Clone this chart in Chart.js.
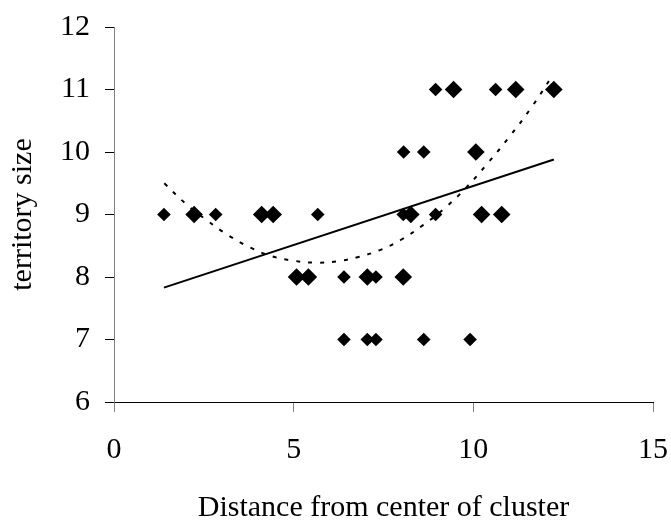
<!DOCTYPE html>
<html>
<head>
<meta charset="utf-8">
<script src="https://cdn.jsdelivr.net/npm/chart.js@4.4.1/dist/chart.umd.min.js"></script>
<style>
  html, body { margin: 0; padding: 0; background: #fff; }
  #wrap { width: 671px; height: 520px; }
</style>
</head>
<body>
<div id="wrap"><canvas id="territoryChart" width="671" height="520"></canvas></div>
<script>
// observed points, small diamonds
const smallX = [1.39, 2.83, 5.67, 8.05, 8.95, 8.06, 8.62, 8.95, 10.62, 6.40, 7.29, 6.40, 7.05, 7.29, 8.62, 9.91];
const smallY = [9, 9, 9, 9, 9, 10, 10, 11, 11, 8, 8, 7, 7, 7, 7, 7];

// observed points, large diamonds
const largeX = [2.23, 4.11, 4.43, 8.26, 10.23, 10.79, 10.07, 9.45, 11.18, 12.24, 5.08, 5.41, 7.05, 8.05];
const largeY = [9, 9, 9, 9, 9, 9, 10, 11, 11, 11, 8, 8, 8, 8];

// linear trend line (end points)
const linearX = [1.39, 12.24];
const linearY = [7.83, 9.88];

// polynomial trend line
const curveX = [1.4, 2.0, 2.6, 3.2, 3.8, 4.4, 5.0, 5.6, 6.2, 6.8, 7.4, 8.0, 8.6, 9.2, 9.8, 10.4, 11.0, 11.6, 12.2];
const curveY = [9.50, 9.17, 8.90, 8.66, 8.47, 8.33, 8.26, 8.23, 8.25, 8.32, 8.43, 8.60, 8.83, 9.10, 9.43, 9.82, 10.24, 10.70, 11.22];

const xTicks = [0, 5, 10, 15];
const yTicks = [6, 7, 8, 9, 10, 11, 12];

const toPoints = (xs, ys) => xs.map((x, i) => ({ x: x, y: ys[i] }));

const serif = 'Liberation Serif, Times New Roman, serif';

// stop label overflow from pushing the plot area in; layout padding handles it
const noEdgePadding = (scale) => {
    scale.paddingLeft = 0;
    scale.paddingRight = 0;
    scale.paddingTop = 0;
    scale.paddingBottom = 0;
};

new Chart(document.getElementById('territoryChart'), {
    type: 'scatter',
    data: {
        datasets: [
            {
                label: 'small',
                data: toPoints(smallX, smallY),
                pointStyle: 'rectRot',
                pointRadius: 6.8,
                pointBorderWidth: 0,
                backgroundColor: '#000',
                borderColor: '#000',
                order: 1
            },
            {
                label: 'large',
                data: toPoints(largeX, largeY),
                pointStyle: 'rectRot',
                pointRadius: 8.8,
                pointBorderWidth: 0,
                backgroundColor: '#000',
                borderColor: '#000',
                order: 1
            },
            {
                label: 'Linear',
                data: toPoints(linearX, linearY),
                showLine: true,
                pointRadius: 0,
                borderColor: '#000',
                borderWidth: 2,
                order: 2
            },
            {
                label: 'Poly',
                data: toPoints(curveX, curveY),
                showLine: true,
                pointRadius: 0,
                tension: 0.4,
                borderColor: '#000',
                borderWidth: 2,
                borderDash: [4, 8],
                order: 2
            }
        ]
    },
    options: {
        responsive: false,
        animation: false,
        events: [],
        layout: {
            padding: { left: 0, right: 18, top: 27, bottom: 0 }
        },
        plugins: {
            legend: { display: false },
            tooltip: { enabled: false }
        },
        scales: {
            x: {
                type: 'linear',
                min: 0,
                max: 15,
                afterBuildTicks: (scale) => { scale.ticks = xTicks.map(v => ({ value: v })); },
                afterFit: (scale) => { scale.height = 118; noEdgePadding(scale); },
                ticks: {
                    color: '#000',
                    padding: 23,
                    font: { family: serif, size: 30, lineHeight: 1 }
                },
                grid: {
                    drawOnChartArea: false,
                    drawTicks: true,
                    tickLength: 10,
                    color: '#808080'
                },
                border: { display: true, color: '#000', width: 1 },
                title: {
                    display: true,
                    text: 'Distance from center of cluster',
                    color: '#000',
                    padding: { top: 0, bottom: 0 },
                    font: { family: serif, size: 30, lineHeight: 0.8 }
                }
            },
            y: {
                type: 'linear',
                min: 6,
                max: 12,
                afterBuildTicks: (scale) => { scale.ticks = yTicks.map(v => ({ value: v })); },
                afterFit: (scale) => { scale.width = 114; noEdgePadding(scale); },
                ticks: {
                    color: '#000',
                    padding: 15,
                    font: { family: serif, size: 30 }
                },
                grid: {
                    drawOnChartArea: false,
                    drawTicks: true,
                    tickLength: 9,
                    color: '#000'
                },
                border: { display: true, color: '#808080', width: 1 },
                title: {
                    display: true,
                    text: 'territory size',
                    color: '#000',
                    padding: { top: 11, bottom: 0 },
                    font: { family: serif, size: 30, lineHeight: 0.8 }
                }
            }
        }
    }
});
</script>
</body>
</html>
